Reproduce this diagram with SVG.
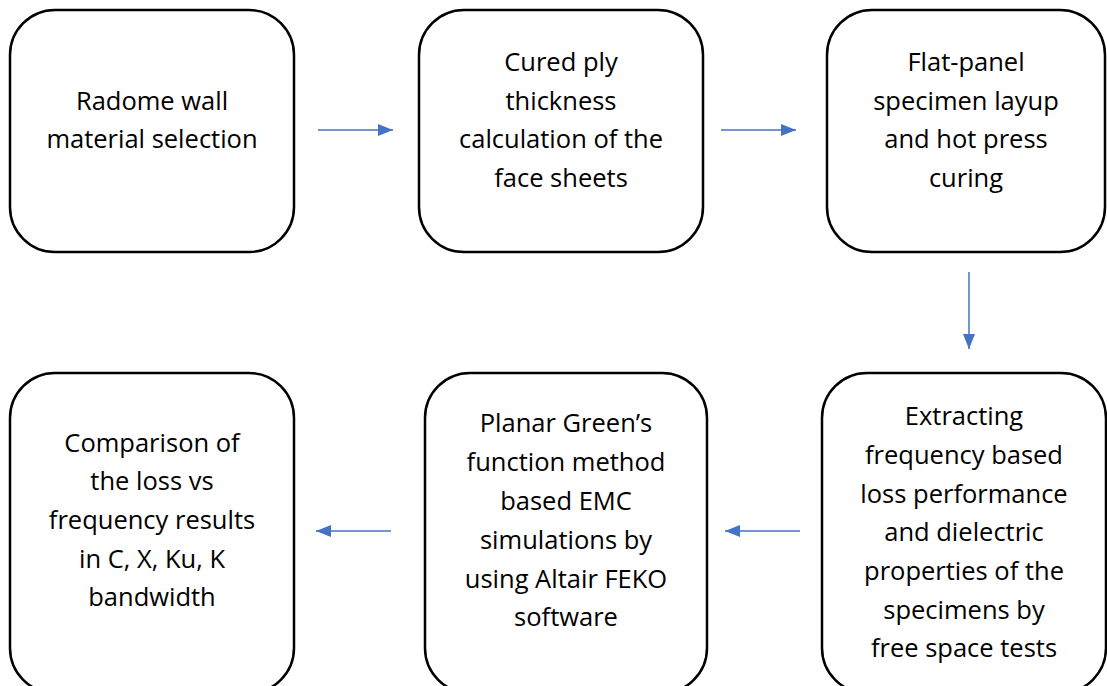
<svg xmlns="http://www.w3.org/2000/svg" width="1107" height="686" viewBox="0 0 1107 686">
<style>
.box{fill:#fff;stroke:#000;stroke-width:2.5}
.t{font-family:"Open Sans",Lato,sans-serif;font-size:25.5px;fill:#000;text-anchor:middle}
.c{stroke:#4472C4;stroke-width:1.5;fill:none;marker-end:url(#ah)}
</style>
<defs>
<marker id="ah" viewBox="0 0 15 12" refX="15" refY="6" markerWidth="15" markerHeight="12" markerUnits="userSpaceOnUse" orient="auto"><path d="M0,0 L15,6 L0,12 Z" fill="#4472C4"/></marker>
</defs>
<rect width="1107" height="686" fill="#fff"/>
<g id="n1"><rect class="box" x="10" y="10" width="284" height="242" rx="45"/>
<text class="t" x="152" y="110">Radome wall</text><text class="t" x="152" y="148">material selection</text></g>
<g id="n2"><rect class="box" x="419" y="10" width="284" height="242" rx="45"/>
<text class="t" x="561" y="71">Cured ply</text><text class="t" x="561" y="110">thickness</text><text class="t" x="561" y="148">calculation of the</text><text class="t" x="561" y="187">face sheets</text></g>
<g id="n3"><rect class="box" x="827" y="10" width="278" height="242" rx="45"/>
<text class="t" x="966" y="71">Flat-panel</text><text class="t" x="966" y="110">specimen layup</text><text class="t" x="966" y="148">and hot press</text><text class="t" x="966" y="187">curing</text></g>
<g id="n4"><rect class="box" x="10" y="373" width="284" height="320" rx="45"/>
<text class="t" x="152" y="452">Comparison of</text><text class="t" x="152" y="490">the loss vs</text><text class="t" x="152" y="529">frequency results</text><text class="t" x="152" y="568">in C, X, Ku, K</text><text class="t" x="152" y="606">bandwidth</text></g>
<g id="n5"><rect class="box" x="425" y="373" width="282" height="320" rx="45"/>
<text class="t" x="566" y="432">Planar Green’s</text><text class="t" x="566" y="471">function method</text><text class="t" x="566" y="510">based EMC</text><text class="t" x="566" y="549">simulations by</text><text class="t" x="566" y="588">using Altair FEKO</text><text class="t" x="566" y="626">software</text></g>
<g id="n6"><rect class="box" x="822" y="373" width="284" height="320" rx="45"/>
<text class="t" x="964" y="425">Extracting</text><text class="t" x="964" y="464">frequency based</text><text class="t" x="964" y="503">loss performance</text><text class="t" x="964" y="541">and dielectric</text><text class="t" x="964" y="580">properties of the</text><text class="t" x="964" y="619">specimens by</text><text class="t" x="964" y="657">free space tests</text></g>
<g id="connectors">
<path class="c" d="M318,130 H393"/>
<path class="c" d="M721,130 H796"/>
<path class="c" d="M969,272 V349"/>
<path class="c" d="M800,531 H725"/>
<path class="c" d="M391,531 H316"/>
</g>
</svg>
